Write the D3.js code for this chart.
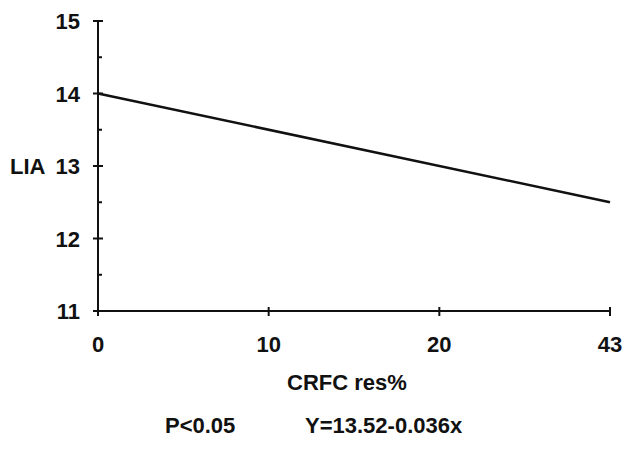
<!DOCTYPE html>
<html>
<head>
<meta charset="utf-8">
<script src="https://cdn.jsdelivr.net/npm/d3@7"></script>
<style>
  body { margin: 0; background: #fff; }
  svg text { font-family: "Liberation Sans", Arial, sans-serif; font-weight: bold; fill: #111; }
</style>
</head>
<body>
<div id="viz"></div>
<script>
const xCategories = ['0', '10', '20', '43'];
const yTicks = [11, 12, 13, 14, 15];
const yMinorTicks = [11.5, 12.5, 13.5, 14.5];
const lineX = ['0', '43'];
const lineY = [14, 12.5];
const yLabel = 'LIA';
const xLabel = 'CRFC res%';
const notes = ['P<0.05', 'Y=13.52-0.036x'];

const width = 624;
const height = 451;
const margin = { top: 21, right: 14, bottom: 140, left: 98 };

const x = d3.scalePoint()
  .domain(xCategories)
  .range([margin.left, width - margin.right]);

const y = d3.scaleLinear()
  .domain([11, 15])
  .range([height - margin.bottom, margin.top]);

const svg = d3.select('#viz')
  .append('svg')
  .attr('width', width)
  .attr('height', height);

// y axis
svg.append('line')
  .attr('x1', margin.left).attr('x2', margin.left)
  .attr('y1', y(15)).attr('y2', y(11))
  .attr('stroke', '#111').attr('stroke-width', 2);

svg.append('g').selectAll('line').data(yTicks)
  .enter().append('line')
    .attr('x1', margin.left - 5).attr('x2', margin.left + 5)
    .attr('y1', (d) => y(d)).attr('y2', (d) => y(d))
    .attr('stroke', '#111').attr('stroke-width', 2);

svg.append('g').selectAll('line').data(yMinorTicks)
  .enter().append('line')
    .attr('x1', margin.left).attr('x2', margin.left + 4)
    .attr('y1', (d) => y(d)).attr('y2', (d) => y(d))
    .attr('stroke', '#111').attr('stroke-width', 2);

svg.append('g').selectAll('text').data(yTicks)
  .enter().append('text')
    .attr('x', margin.left - 18)
    .attr('y', (d) => y(d) + 8)
    .attr('text-anchor', 'end')
    .style('font-size', '22px')
    .text((d) => d);

svg.append('text')
  .attr('x', 10)
  .attr('y', y(13) + 8)
  .style('font-size', '22px')
  .text(yLabel);

// x axis
svg.append('line')
  .attr('x1', x('0')).attr('x2', x('43'))
  .attr('y1', y(11)).attr('y2', y(11))
  .attr('stroke', '#111').attr('stroke-width', 2);

svg.append('g').selectAll('line').data(xCategories)
  .enter().append('line')
    .attr('x1', (d) => x(d)).attr('x2', (d) => x(d))
    .attr('y1', y(11) - 4).attr('y2', y(11) + 5)
    .attr('stroke', '#111').attr('stroke-width', 2);

svg.append('g').selectAll('text').data(xCategories)
  .enter().append('text')
    .attr('x', (d) => x(d))
    .attr('y', y(11) + 41)
    .attr('text-anchor', 'middle')
    .style('font-size', '22px')
    .text((d) => d);

svg.append('text')
  .attr('x', 347)
  .attr('y', 390)
  .attr('text-anchor', 'middle')
  .style('font-size', '22px')
  .text(xLabel);

// regression line
const line = d3.line()
  .x((d) => x(d[0]))
  .y((d) => y(d[1]));

svg.append('path')
  .datum(lineX.map((d, i) => [d, lineY[i]]))
  .attr('d', line)
  .attr('fill', 'none')
  .attr('stroke', '#111')
  .attr('stroke-width', 2.5);

// notes
svg.append('text')
  .attr('x', 165).attr('y', 433)
  .style('font-size', '22px')
  .text(notes[0]);

svg.append('text')
  .attr('x', 305).attr('y', 433)
  .style('font-size', '22px')
  .text(notes[1]);
</script>
</body>
</html>
